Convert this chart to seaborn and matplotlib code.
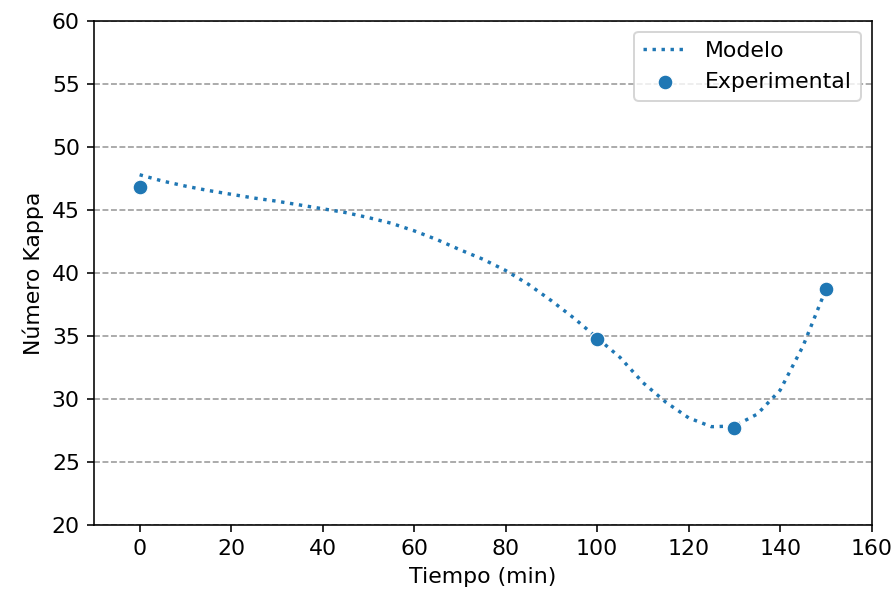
import numpy as np
import pandas as pd
import matplotlib
matplotlib.use('Agg')
import matplotlib.pyplot as plt
import seaborn as sns

# datos experimentales
t_exp = [0, 100, 130, 150]
kappa_exp = [46.8, 34.8, 27.7, 38.7]

# curva del modelo
t_mod = [0, 5, 10, 15, 20, 25, 30, 35, 40, 45, 50, 55, 60, 65, 70, 75, 80,
         85, 90, 95, 100, 105, 110, 115, 120, 125, 130, 135, 140, 145, 150]
kappa_mod = [47.8, 47.3, 46.9, 46.55, 46.25, 45.95, 45.7, 45.4, 45.1, 44.8,
             44.4, 43.95, 43.35, 42.65, 41.85, 41.1, 40.2, 39.1, 37.8, 36.4,
             34.85, 33.3, 31.3, 29.75, 28.5, 27.8, 27.85, 28.8, 30.7, 34.2, 38.7]

y_ticks = [20, 25, 30, 35, 40, 45, 50, 55, 60]
x_ticks = [0, 20, 40, 60, 80, 100, 120, 140, 160]

plt.rcParams['font.size'] = 11

df_mod = pd.DataFrame({'t': t_mod, 'k': kappa_mod})
df_exp = pd.DataFrame({'t': t_exp, 'k': kappa_exp})

fig = plt.figure(figsize=(894 / 144, 602 / 144), dpi=144)
ax = fig.add_subplot(111)
fig.subplots_adjust(left=0.105, right=0.975, top=0.965, bottom=0.128)

sns.lineplot(data=df_mod, x='t', y='k', ax=ax, linestyle=':', color='#1f77b4',
             linewidth=1.7, label='Modelo')
sns.scatterplot(data=df_exp, x='t', y='k', ax=ax, color='#1f77b4', s=55,
                label='Experimental', zorder=3)

ax.set_xlim(-10, 160)
ax.set_ylim(20, 60)
ax.set_xticks(x_ticks)
ax.set_yticks(y_ticks)
ax.yaxis.grid(True, linestyle='--', color='gray', alpha=0.8)
ax.set_axisbelow(True)
ax.set_xlabel('Tiempo (min)')
ax.set_ylabel('Número Kappa')
ax.legend(loc='upper right')

plt.savefig('out.png', dpi=144)
